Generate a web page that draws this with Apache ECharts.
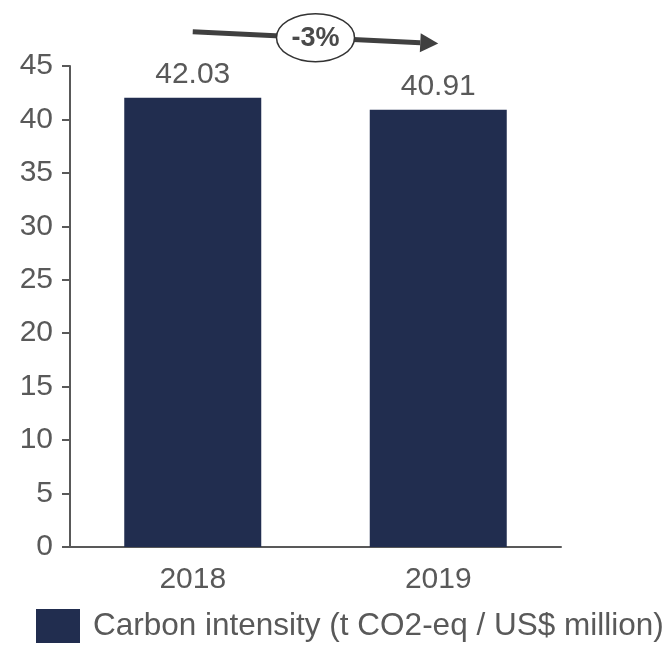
<!DOCTYPE html>
<html><head><meta charset="utf-8">
<script src="https://cdn.jsdelivr.net/npm/echarts@6/dist/echarts.min.js"></script>
<style>html,body{margin:0;padding:0;background:#fff}#c{width:666px;height:646px}</style>
</head><body><div id="c"></div>
<script>
const categories = ['2018', '2019'];
const carbonIntensity = [42.03, 40.91];
const seriesName = 'Carbon intensity (t CO2-eq / US$ million)';
const changeLabel = '-3%';
const yTicks = { min: 0, max: 45, interval: 5 };

const grey = '#595959';
const font = 'Liberation Sans, Arial, sans-serif';
const chart = echarts.init(document.getElementById('c'), null, {renderer: 'canvas'});
chart.setOption({
  animation: false,
  grid: { left: 70, right: 105, top: 66, bottom: 99 },
  legend: {
    data: [seriesName], left: 36, bottom: 3, itemWidth: 44, itemHeight: 34,
    icon: 'rect', padding: 0,
    textStyle: { color: grey, fontSize: 31.5, fontFamily: font, padding: [0, 0, 0, 8] }
  },
  xAxis: {
    type: 'category', data: categories,
    axisLine: { lineStyle: { color: grey, width: 2 } },
    axisTick: { show: false },
    axisLabel: { color: grey, fontSize: 30, fontFamily: font, margin: 18 }
  },
  yAxis: {
    type: 'value', min: yTicks.min, max: yTicks.max, interval: yTicks.interval,
    axisLine: { show: true, lineStyle: { color: grey, width: 2 } },
    axisTick: { show: true, length: 8, lineStyle: { color: grey, width: 2 } },
    splitLine: { show: false },
    axisLabel: { color: grey, fontSize: 30, fontFamily: font, margin: 17 }
  },
  series: [{
    name: seriesName, type: 'bar', data: carbonIntensity,
    barWidth: 137,
    itemStyle: { color: '#212d4f' },
    label: { show: true, position: 'top', distance: 8, color: grey, fontSize: 30, fontFamily: font, formatter: p => p.value.toFixed(2) }
  }]
});

// annotation arrow between bar centres
const p0 = chart.convertToPixel({xAxisIndex: 0, yAxisIndex: 0}, [0, 48.2]);
const p1 = chart.convertToPixel({xAxisIndex: 0, yAxisIndex: 0}, [1, 47.1]);
const dx = p1[0] - p0[0], dy = p1[1] - p0[1];
const len = Math.sqrt(dx*dx + dy*dy), ux = dx/len, uy = dy/len;
const headLen = 18, headW = 9.5;
const base = [p1[0] - ux*headLen, p1[1] - uy*headLen];
const mid = [p0[0] + dx*0.5, p0[1] + dy*0.5];
const dark = '#404040';
chart.setOption({
  graphic: [
    { type: 'line', shape: { x1: p0[0], y1: p0[1], x2: base[0], y2: base[1] }, style: { stroke: dark, lineWidth: 5 }, z: 10 },
    { type: 'polygon', shape: { points: [[p1[0], p1[1]], [base[0] - uy*headW, base[1] + ux*headW], [base[0] + uy*headW, base[1] - ux*headW]] }, style: { fill: dark }, z: 10 },
    { type: 'ellipse', shape: { cx: mid[0], cy: mid[1], rx: 39, ry: 24 }, style: { fill: '#fff', stroke: '#333', lineWidth: 1.5 }, z: 11 },
    { type: 'text', x: mid[0], y: mid[1] + 1, style: { text: changeLabel, fill: '#4a4a4a', font: 'bold 27px ' + font, align: 'center', verticalAlign: 'middle' }, z: 12 }
  ]
});
</script></body></html>
